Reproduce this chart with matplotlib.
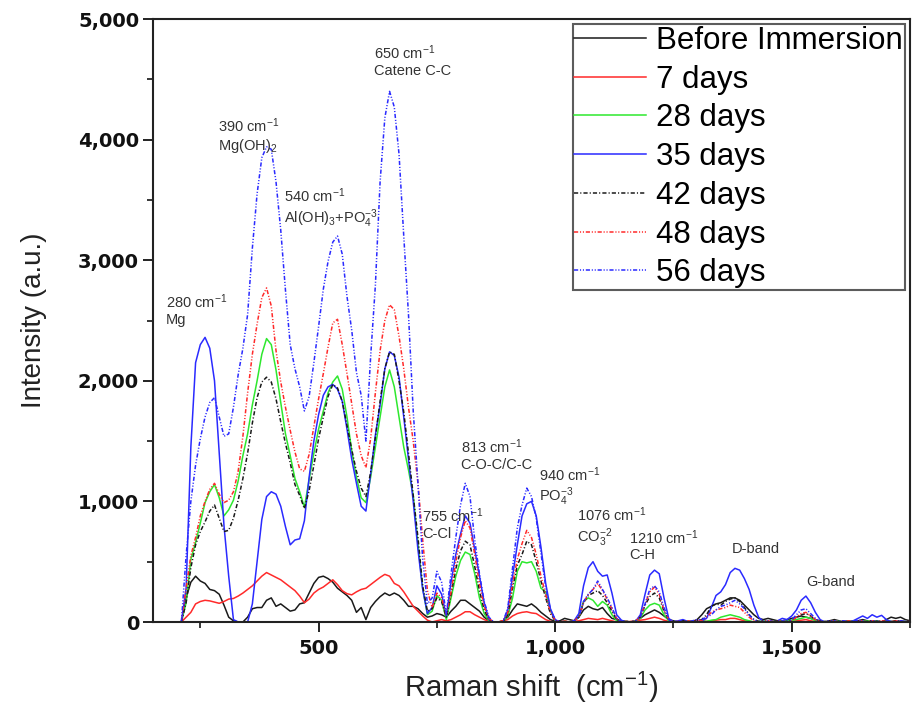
import matplotlib
matplotlib.use('Agg')
import matplotlib.pyplot as plt
from matplotlib.ticker import MultipleLocator

plt.rcParams['font.family'] = ['Liberation Sans', 'DejaVu Sans']
plt.rcParams['mathtext.fontset'] = 'custom'
plt.rcParams['mathtext.rm'] = 'Liberation Sans'
plt.rcParams['mathtext.it'] = 'Liberation Sans:italic'
plt.rcParams['mathtext.bf'] = 'Liberation Sans:bold'
plt.rcParams['lines.scale_dashes'] = False

# ---------------- data ----------------
raman_shift = [
    210, 220, 230, 240, 250, 260, 270, 280, 290, 300,
    310, 320, 330, 340, 350, 360, 370, 380, 390, 400,
    410, 420, 430, 440, 450, 460, 470, 480, 490, 500,
    510, 520, 530, 540, 550, 560, 570, 580, 590, 600,
    610, 620, 630, 640, 650, 660, 670, 680, 690, 700,
    710, 720, 730, 740, 750, 760, 770, 780, 790, 800,
    810, 820, 830, 840, 850, 860, 870, 880, 890, 900,
    910, 920, 930, 940, 950, 960, 970, 980, 990, 1000,
    1010, 1020, 1030, 1040, 1050, 1060, 1070, 1080, 1090, 1100,
    1110, 1120, 1130, 1140, 1150, 1160, 1170, 1180, 1190, 1200,
    1210, 1220, 1230, 1240, 1250, 1260, 1270, 1280, 1290, 1300,
    1310, 1320, 1330, 1340, 1350, 1360, 1370, 1380, 1390, 1400,
    1410, 1420, 1430, 1440, 1450, 1460, 1470, 1480, 1490, 1500,
    1510, 1520, 1530, 1540, 1550, 1560, 1570, 1580, 1590, 1600,
    1610, 1620, 1630, 1640, 1650, 1660, 1670, 1680, 1690, 1700,
    1710, 1720, 1730, 1740, 1750,
]

before_immersion = [
    0, 200, 330, 380, 340, 320, 270, 260, 230, 140,
    40, 10, 0, 0, 40, 110, 120, 120, 180, 200,
    130, 150, 120, 90, 100, 150, 160, 240, 320, 370,
    380, 360, 330, 280, 250, 220, 180, 80, 120, 20,
    120, 170, 210, 240, 220, 240, 220, 180, 130, 130,
    110, 70, 40, 50, 70, 60, 40, 90, 130, 180,
    180, 150, 120, 90, 40, 10, 0, 0, 10, 40,
    100, 150, 140, 130, 150, 120, 80, 50, 20, 5,
    10, 30, 20, 10, 40, 100, 130, 110, 100, 120,
    70, 30, 20, 10, 5, 0, 10, 30, 60, 80,
    100, 80, 50, 20, 10, 0, 10, 0, 5, 20,
    60, 110, 130, 150, 160, 180, 200, 200, 180, 140,
    100, 60, 30, 20, 30, 20, 10, 10, 20, 30,
    40, 50, 40, 30, 20, 10, 0, 10, 20, 10,
    0, 10, 0, 10, 20, 10, 0, 10, 0, 20,
    40, 30, 40, 20, 10,
]

days_7 = [
    0, 40, 80, 150, 170, 180, 175, 165, 155, 170,
    190, 195, 215, 240, 270, 300, 340, 380, 410, 390,
    370, 350, 320, 290, 260, 215, 160, 190, 240, 270,
    290, 320, 350, 310, 260, 235, 225, 250, 270, 280,
    310, 340, 370, 395, 380, 320, 300, 250, 190, 130,
    90, 50, 15, 0, 10, 20, 10, 20, 40, 60,
    85, 85, 60, 40, 20, 5, 0, 0, 10, 20,
    50, 70, 80, 85, 75, 70, 45, 20, 5, 0,
    0, 10, 0, 5, 10, 20, 30, 25, 20, 30,
    20, 10, 0, 5, 0, 5, 10, 15, 20, 30,
    40, 30, 15, 5, 0, 5, 0, 5, 0, 5,
    10, 5, 10, 15, 20, 20, 30, 30, 20, 10,
    5, 0, 5, 0, 5, 10, 0, 5, 10, 5,
    10, 15, 20, 10, 5, 0, 5, 0, 5, 0,
    5, 0, 10, 5, 0, 5, 10, 0, 5, 0,
    5, 10, 0, 5, 0,
]

days_28 = [
    0, 160, 520, 660, 820, 990, 1080, 1140, 1030, 880,
    930, 1010, 1170, 1380, 1560, 1800, 2000, 2220, 2350, 2300,
    2090, 1820, 1560, 1380, 1190, 1080, 950, 1180, 1400, 1600,
    1750, 1900, 1990, 2040, 1930, 1700, 1420, 1200, 1030, 990,
    1200, 1450, 1700, 1950, 2090, 1950, 1700, 1450, 1260, 1050,
    650, 280, 60, 90, 220, 180, 20, 200, 380, 510,
    580, 560, 400, 200, 70, 10, 0, 0, 0, 50,
    200, 420, 500, 490, 500, 420, 280, 250, 100, 10,
    0, 5, 0, 10, 40, 170, 200, 180, 130, 170,
    140, 60, 10, 0, 5, 0, 10, 30, 100, 140,
    155, 140, 60, 10, 0, 5, 0, 10, 5, 0,
    10, 5, 15, 20, 40, 50, 60, 50, 40, 20,
    10, 0, 5, 10, 0, 5, 10, 5, 10, 15,
    20, 30, 40, 30, 10, 0, 5, 0, 10, 5,
    0, 5, 10, 0, 5, 10, 0, 5, 0, 10,
    5, 0, 10, 5, 0,
]

days_35 = [
    0, 280, 1450, 2150, 2300, 2360, 2270, 2000, 1400, 800,
    380, 20, 0, 0, 0, 150, 500, 850, 1040, 1080,
    1060, 960, 790, 640, 680, 690, 840, 1200, 1500, 1720,
    1880, 1950, 1970, 1930, 1830, 1600, 1350, 1150, 960, 920,
    1230, 1550, 1800, 2100, 2240, 2210, 2030, 1700, 1350, 1000,
    600, 270, 70, 120, 300, 230, 50, 330, 560, 730,
    880, 820, 600, 380, 160, 20, 0, 0, 0, 100,
    380, 640, 880, 980, 1000, 880, 620, 320, 110, 20,
    0, 0, 0, 10, 70, 300, 450, 500, 420, 380,
    390, 240, 60, 15, 0, 0, 5, 60, 230, 390,
    430, 400, 200, 30, 0, 10, 20, 5, 0, 0,
    10, 30, 120, 220, 250, 310, 410, 445, 430, 360,
    270, 140, 40, 5, 0, 0, 10, 30, 20, 50,
    100, 180, 215, 160, 80, 20, 0, 0, 10, 0,
    5, 0, 10, 30, 50, 30, 60, 40, 55, 20,
    0, 0, 10, 5, 0,
]

days_42 = [
    0, 160, 450, 640, 750, 830, 920, 970, 860, 750,
    760, 860, 1010, 1190, 1400, 1650, 1860, 1990, 2030, 1990,
    1850, 1660, 1480, 1320, 1140, 1050, 940, 1090, 1300, 1520,
    1700, 1870, 1970, 1940, 1830, 1630, 1430, 1250, 1110, 1040,
    1240, 1530, 1830, 2100, 2240, 2220, 2000, 1740, 1400, 1050,
    700, 300, 90, 110, 200, 170, 40, 230, 440, 590,
    670, 640, 460, 260, 100, 20, 0, 0, 0, 60,
    280, 470, 560, 670, 640, 500, 340, 200, 70, 10,
    0, 5, 0, 10, 40, 160, 220, 240, 260, 220,
    160, 90, 20, 0, 5, 0, 10, 40, 140, 210,
    240, 200, 90, 15, 0, 5, 10, 0, 5, 10,
    20, 60, 130, 150, 140, 170, 190, 200, 170, 120,
    60, 20, 5, 10, 0, 5, 10, 0, 5, 20,
    40, 60, 70, 50, 20, 5, 0, 10, 5, 0,
    10, 0, 5, 10, 0, 5, 10, 0, 10, 5,
    0, 10, 5, 0, 10,
]

days_48 = [
    0, 280, 550, 700, 880, 1000, 1100, 1150, 1060, 990,
    1010, 1080, 1250, 1540, 1900, 2220, 2470, 2690, 2770, 2620,
    2250, 1990, 1780, 1590, 1410, 1270, 1250, 1390, 1620, 1850,
    2060, 2280, 2480, 2510, 2300, 2060, 1810, 1560, 1380, 1280,
    1520, 1900, 2250, 2500, 2630, 2590, 2370, 2100, 1780, 1500,
    1150, 680, 260, 120, 240, 200, 60, 250, 500, 700,
    840, 780, 560, 320, 130, 30, 0, 0, 10, 80,
    320, 520, 650, 760, 700, 560, 380, 230, 80, 15,
    0, 5, 0, 10, 40, 160, 230, 270, 320, 260,
    190, 110, 30, 0, 5, 0, 10, 40, 150, 250,
    290, 230, 100, 20, 0, 5, 0, 10, 5, 20,
    10, 40, 80, 100, 110, 120, 140, 130, 120, 80,
    40, 10, 0, 5, 10, 0, 5, 10, 0, 10,
    40, 70, 80, 50, 20, 5, 0, 5, 10, 0,
    5, 10, 0, 5, 10, 0, 5, 0, 10, 5,
    0, 5, 10, 0, 5,
]

days_56 = [
    0, 550, 1000, 1300, 1520, 1700, 1820, 1860, 1700, 1540,
    1560, 1780, 2050, 2270, 2550, 3100, 3550, 3850, 3940, 3920,
    3650, 3250, 2750, 2300, 2100, 1950, 1750, 1870, 2150, 2450,
    2760, 2990, 3150, 3200, 3050, 2700, 2420, 2070, 1880, 1500,
    2200, 2790, 3650, 4180, 4400, 4270, 3880, 3200, 2550, 1750,
    1150, 520, 150, 200, 420, 330, 60, 400, 700, 970,
    1150, 1040, 680, 400, 170, 40, 0, 0, 0, 120,
    450, 780, 970, 1110, 1040, 860, 570, 290, 100, 20,
    0, 5, 0, 10, 40, 170, 230, 270, 340, 270,
    200, 120, 30, 0, 5, 0, 10, 40, 150, 270,
    300, 250, 120, 20, 0, 10, 5, 0, 10, 20,
    20, 40, 60, 100, 130, 140, 160, 180, 150, 110,
    60, 20, 5, 0, 10, 5, 0, 10, 5, 20,
    60, 100, 110, 70, 30, 0, 5, 10, 0, 5,
    10, 0, 5, 15, 10, 0, 10, 5, 0, 10,
    5, 0, 10, 0, 5,
]

series_labels = ['Before Immersion', '7 days', '28 days', '35 days',
                 '42 days', '48 days', '56 days']
series_values = [before_immersion, days_7, days_28, days_35,
                 days_42, days_48, days_56]

x_ticks = [500, 1000, 1500]
x_tick_labels = ['500', '1,000', '1,500']
y_ticks = [0, 1000, 2000, 3000, 4000, 5000]
y_tick_labels = ['0', '1,000', '2,000', '3,000', '4,000', '5,000']

# peak annotations: x, y (top of first line), first line, second line
peak_labels = [
    (178, 2735, '280 cm$^{-1}$', 'Mg'),
    (288, 4190, '390 cm$^{-1}$', 'Mg(OH)$_2$'),
    (426, 3610, '540 cm$^{-1}$', 'Al(OH)$_3$+PO$_4^{-3}$'),
    (617, 4800, '650 cm$^{-1}$', 'Catene C-C'),
    (719, 960, '755 cm$^{-1}$', 'C-Cl'),
    (800, 1530, '813 cm$^{-1}$', 'C-O-C/C-C'),
    (966, 1300, '940 cm$^{-1}$', 'PO$_4^{-3}$'),
    (1047, 965, '1076 cm$^{-1}$', 'CO$_3^{-2}$'),
    (1157, 780, '1210 cm$^{-1}$', 'C-H'),
    (1374, 667, 'D-band', ''),
    (1531, 390, 'G-band', ''),
]
line_gap = 170  # vertical offset of the second annotation line (data units)

# ---------------- styles ----------------
RED = '#ff2a2a'
GREEN = '#2ee82e'
BLUE = '#2a2aff'
BLACK = '#1a1a1a'
dd = (0, (3.0, 1.3, 0.8, 1.3, 0.8, 1.3))
styles = [
    dict(color=BLACK, ls='-'),
    dict(color=RED, ls='-'),
    dict(color=GREEN, ls='-'),
    dict(color=BLUE, ls='-'),
    dict(color=BLACK, ls=(0, (3.0, 1.5, 0.8, 1.5))),
    dict(color=RED, ls=dd),
    dict(color=BLUE, ls=dd),
]

fig = plt.figure(figsize=(9.13, 7.2), dpi=100)
ax = fig.add_axes([153 / 913, 1 - 622 / 720, (910 - 153) / 913, (622 - 19) / 720])

for lab, vals, st in zip(series_labels, series_values, styles):
    ax.plot(raman_shift, vals, label=lab, lw=1.1, **st)

ax.set_xlim(150, 1750)
ax.set_ylim(0, 5000)
ax.set_xticks(x_ticks, labels=x_tick_labels, fontweight='bold',
              fontfamily='DejaVu Sans')
ax.set_yticks(y_ticks, labels=y_tick_labels, fontweight='bold',
              fontfamily='DejaVu Sans')
ax.xaxis.set_minor_locator(MultipleLocator(250))
ax.yaxis.set_minor_locator(MultipleLocator(500))
ax.tick_params(axis='both', which='major', direction='out', length=7,
               width=1.3, labelsize=14, colors='#111111')
ax.tick_params(axis='both', which='minor', direction='out', length=4, width=1.1)
ax.tick_params(axis='x', which='major', pad=5)
ax.tick_params(axis='y', which='major', pad=3)
for sp in ax.spines.values():
    sp.set_linewidth(1.5)
    sp.set_color('#222222')

ax.set_xlabel('Raman shift  (cm$^{-1}$)', fontsize=21, color='#222222', labelpad=9)
ax.set_ylabel('Intensity (a.u.)', fontsize=20, color='#222222', labelpad=22)

for x, y, l1, l2 in peak_labels:
    ax.text(x, y, l1, fontsize=10.5, color='#333333', ha='left', va='top')
    if l2:
        ax.text(x, y - line_gap, l2, fontsize=10.5, color='#333333',
                ha='left', va='top')

leg = ax.legend(loc='upper right', fontsize=22.5, frameon=True, fancybox=False,
                handlelength=2.3, handletextpad=0.33, labelspacing=0.28,
                borderpad=0.05, borderaxespad=0.17)
leg.get_frame().set_edgecolor('#333333')
leg.get_frame().set_linewidth(1.5)

fig.savefig('out.png', dpi=100)
